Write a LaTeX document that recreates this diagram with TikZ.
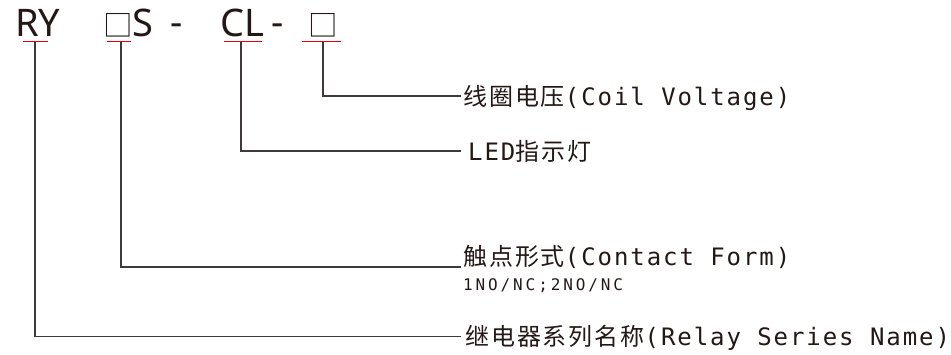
\documentclass[tikz,border=0pt]{standalone}
\usepackage{fontspec}
\setmainfont{Noto Sans}
\newfontfamily\cjk[LetterSpace=8]{Noto Sans CJK SC}
\newfontfamily\boxfont{Noto Sans CJK SC}
\newfontfamily\mono[LetterSpace=8]{DejaVu Sans Mono}
\newfontfamily\monosmall[LetterSpace=18]{DejaVu Sans Mono}
\definecolor{ink}{HTML}{231815}
\definecolor{linec}{HTML}{3E3A39}
\definecolor{redc}{HTML}{E60012}
\tikzset{
  code/.style={anchor=base west, inner sep=0pt, text=ink, font=\fontsize{38}{40}\selectfont},
  boxcode/.style={anchor=base west, inner sep=0pt, text=ink, font=\boxfont\fontsize{29.5}{31}\selectfont},
  label/.style={anchor=base west, inner sep=0pt, text=ink, font=\fontsize{24}{28}\selectfont},
  sublabel/.style={anchor=base west, inner sep=0pt, text=ink, font=\monosmall\fontsize{16}{18}\selectfont},
  conn/.style={draw=linec, line width=1.3pt},
  uline/.style={draw=redc, line width=1.6pt}
}
\begin{document}
\begin{tikzpicture}[x=1pt,y=-1pt]
\useasboundingbox (0,0) rectangle (951,355);
% top code
\node[code] (ry) at (15,37) {RY};
\node[boxcode] (b1) at (103.6,36.2) {□};
\node[code] (s) at (132.5,37) {S};
\node[code] (d1) at (170,36) {-};
\node[code] (cl) at (220,37) {CL};
\node[code] (d2) at (271,36) {-};
\node[boxcode] (b2) at (308.6,36.2) {□};
% underlines
\coordinate (u1a) at (23,41.5); \coordinate (u1b) at (48,41.5);
\coordinate (u2a) at (107,41.5); \coordinate (u2b) at (131,41.5);
\coordinate (u3a) at (224,41.5); \coordinate (u3b) at (262,41.5);
\coordinate (u4a) at (302,41.5); \coordinate (u4b) at (341,41.5);
\draw[uline] (u1a) -- (u1b);
\draw[uline] (u2a) -- (u2b);
\draw[uline] (u3a) -- (u3b);
\draw[uline] (u4a) -- (u4b);
\coordinate (v1) at (35,42.3); \coordinate (v2) at (121,42.3);
\coordinate (v3) at (241,42.3); \coordinate (v4) at (323,42.3);
% labels
\node[label] (coil) at (463,106) {\cjk 线圈电压\mono(Coil Voltage)};
\node[label] (led) at (468,161) {\mono LED\cjk 指示灯};
\node[label] (form) at (463,266) {\cjk 触点形式\mono(Contact Form)};
\node[sublabel] (formsub) at (463,290.5) {1NO/NC;2NO/NC};
\node[label] (name) at (465,346) {\cjk 继电器系列名称\mono(Relay Series Name)};
% connector ends
\coordinate (e4) at (461,96);
\coordinate (e3) at (461,151);
\coordinate (e2) at (461,267);
\coordinate (e1) at (461,336.5);
\draw[conn] (v4) |- (e4);
\draw[conn] (v3) |- (e3);
\draw[conn] (v2) |- (e2);
\draw[conn] (v1) |- (e1);
\end{tikzpicture}
\end{document}
